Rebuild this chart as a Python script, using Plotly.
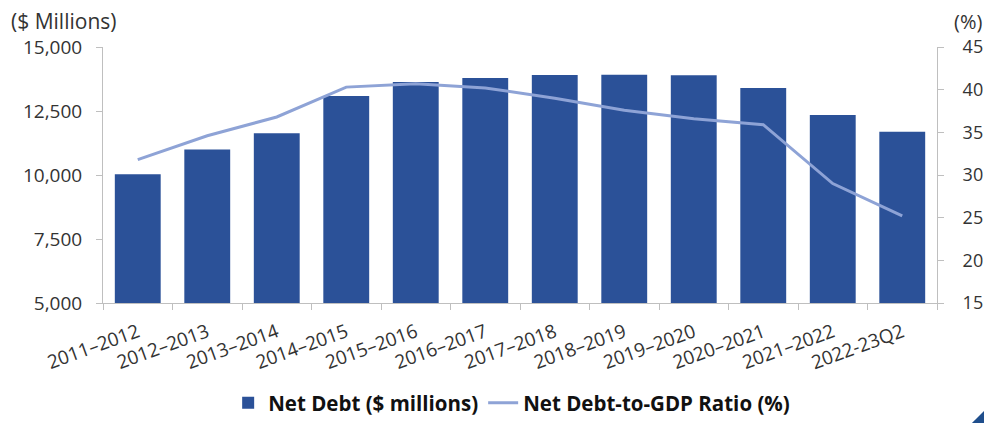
import plotly.graph_objects as go

categories = ["2011–2012", "2012–2013", "2013–2014", "2014–2015", "2015–2016", "2016–2017",
              "2017–2018", "2018–2019", "2019–2020", "2020–2021", "2021–2022", "2022-23Q2"]
net_debt = [10030, 11000, 11630, 13090, 13630, 13790, 13910, 13920, 13900, 13400, 12340, 11690]
debt_to_gdp = [31.8, 34.6, 36.8, 40.3, 40.7, 40.2, 39.0, 37.6, 36.6, 35.9, 29.0, 25.2]

left_ticks = [5000, 7500, 10000, 12500, 15000]
right_ticks = [15, 20, 25, 30, 35, 40, 45]

BAR = "#2B5198"
LINE = "#8EA3D6"
AXIS = "#BFBFBF"
TXT = "#333333"
FONT = "Open Sans"

fig = go.Figure()
fig.add_trace(go.Bar(x=categories, y=net_debt, name="Net Debt ($ millions)",
                     marker=dict(color=BAR, line=dict(width=0)), yaxis="y"))
fig.add_trace(go.Scatter(x=categories, y=debt_to_gdp, name="Net Debt-to-GDP Ratio (%)",
                         mode="lines", line=dict(color=LINE, width=3), yaxis="y2"))

fig.update_layout(
    width=984, height=423,
    margin=dict(l=103, r=47, t=47, b=120),
    plot_bgcolor="white", paper_bgcolor="white",
    font=dict(family=FONT, size=19, color=TXT),
    bargap=0.34,
    showlegend=True,
    legend=dict(orientation="h", x=0.49, xanchor="center", xref="paper",
                y=0.0, yanchor="bottom", yref="container",
                font=dict(family=FONT, size=20.5, color="#111111", weight="bold"),
                itemwidth=30, tracegroupgap=0),
    xaxis=dict(type="category", showline=True, linecolor=AXIS, linewidth=1,
               ticks="outside", tickson="boundaries", ticklen=6, tickcolor=AXIS,
               tickangle=-20, tickfont=dict(size=19, color=TXT), showgrid=False,
               ticklabelstandoff=10, automargin=False),
    yaxis=dict(range=[5000, 15000], tickvals=left_ticks, tickformat=",",
               showline=True, linecolor=AXIS, ticks="outside", ticklen=6, tickcolor=AXIS,
               showgrid=False, zeroline=False, ticklabelstandoff=10, automargin=False),
    yaxis2=dict(range=[15, 45], tickvals=right_ticks, overlaying="y", side="right",
                showline=True, linecolor=AXIS, ticks="outside", ticklen=6, tickcolor=AXIS,
                tickfont=dict(size=18, color=TXT),
                showgrid=False, zeroline=False, ticklabelstandoff=15, automargin=False),
    annotations=[
        dict(text="($ Millions)", xref="paper", yref="paper", x=-0.113, y=1.1,
             xanchor="left", yanchor="middle", showarrow=False,
             font=dict(size=21, color=TXT)),
        dict(text="(%)", xref="paper", yref="paper", x=1.056, y=1.1,
             xanchor="right", yanchor="middle", showarrow=False,
             font=dict(size=20, color=TXT)),
    ],
    shapes=[
        dict(type="path", xref="paper", yref="paper",
             path="M 1.040 -0.475 L 1.06 -0.41 L 1.06 -0.475 Z",
             fillcolor="#1F4E8C", line=dict(width=0)),
    ],
)

fig.write_html("out.html")
